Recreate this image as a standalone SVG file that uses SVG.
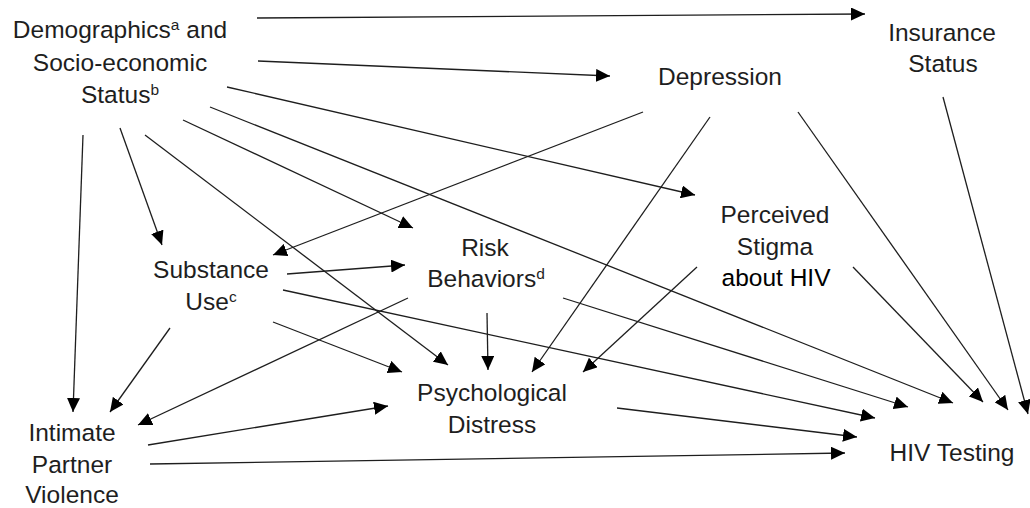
<svg xmlns="http://www.w3.org/2000/svg" width="1030" height="508" viewBox="0 0 1030 508">
<style>
.t{font-family:"Liberation Sans",Arial,sans-serif;font-size:24.5px;fill:#1e1e1e;text-anchor:middle}
.k{fill:#000}
.e line{stroke:#1e1e1e;stroke-width:1.3;marker-end:url(#ah)}
</style>
<defs>
<marker id="ah" markerUnits="userSpaceOnUse" markerWidth="15" markerHeight="13" refX="14" refY="6.5" orient="auto">
<path d="M0,0 L14,6.5 L0,13 z" fill="#000"/>
</marker>
</defs>
<rect width="1030" height="508" fill="#fff"/>
<g id="connectors" class="e">
<line x1="257" y1="18" x2="865" y2="14"/>
<line x1="258" y1="61" x2="610" y2="76"/>
<line x1="227" y1="87" x2="695" y2="195"/>
<line x1="183" y1="120" x2="413" y2="228"/>
<line x1="145" y1="135" x2="448" y2="365"/>
<line x1="210" y1="107" x2="953" y2="403"/>
<line x1="83" y1="135" x2="73" y2="412"/>
<line x1="120" y1="128" x2="162" y2="245"/>
<line x1="643" y1="112" x2="273" y2="255"/>
<line x1="710" y1="117" x2="532" y2="372"/>
<line x1="798" y1="112" x2="1008" y2="410"/>
<line x1="943" y1="97" x2="1028" y2="414"/>
<line x1="287" y1="274" x2="405" y2="265"/>
<line x1="170" y1="328" x2="110" y2="412"/>
<line x1="273" y1="322" x2="402" y2="372"/>
<line x1="283" y1="290" x2="875" y2="418"/>
<line x1="408" y1="298" x2="138" y2="425"/>
<line x1="487" y1="313" x2="488" y2="370"/>
<line x1="563" y1="298" x2="908" y2="407"/>
<line x1="697" y1="267" x2="583" y2="372"/>
<line x1="853" y1="267" x2="983" y2="402"/>
<line x1="617" y1="408" x2="857" y2="437"/>
<line x1="148" y1="445" x2="388" y2="406"/>
<line x1="150" y1="464" x2="845" y2="453"/>
</g>
<g id="demographics">
<text class="t" x="120" y="38">Demographics<tspan font-size="15.5" dy="-8">a</tspan><tspan dy="8"> and</tspan></text>
<text class="t" x="120" y="71">Socio-economic</text>
<text class="t" x="120" y="103">Status<tspan font-size="15.5" dy="-8">b</tspan></text>
</g>
<g id="insurance">
<text class="t" x="942" y="41">Insurance</text>
<text class="t" x="943" y="72">Status</text>
</g>
<g id="depression">
<text class="t" x="720" y="85">Depression</text>
</g>
<g id="stigma">
<text class="t" x="775" y="223">Perceived</text>
<text class="t" x="775" y="255">Stigma</text>
<text class="t k" x="776" y="286">about HIV</text>
</g>
<g id="risk">
<text class="t" x="485" y="256">Risk</text>
<text class="t" x="486" y="287">Behaviors<tspan font-size="15.5" dy="-8">d</tspan></text>
</g>
<g id="substance">
<text class="t" x="211" y="278">Substance</text>
<text class="t" x="211" y="310">Use<tspan font-size="15.5" dy="-8">c</tspan></text>
</g>
<g id="distress">
<text class="t" x="492" y="401">Psychological</text>
<text class="t" x="492" y="433">Distress</text>
</g>
<g id="ipv">
<text class="t" x="72" y="441">Intimate</text>
<text class="t" x="72" y="473">Partner</text>
<text class="t" x="72" y="503">Violence</text>
</g>
<g id="hiv">
<text class="t" x="952" y="461">HIV Testing</text>
</g>
</svg>
